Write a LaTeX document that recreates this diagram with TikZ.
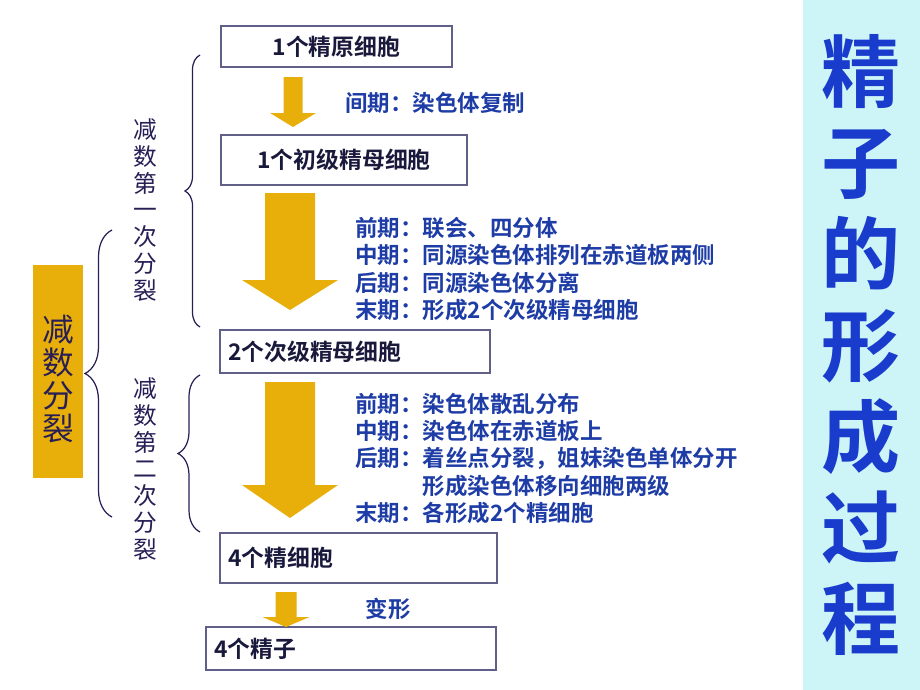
\documentclass[tikz,border=0pt]{standalone}
\usepackage{fontspec}
\setmainfont{Noto Sans CJK SC}[BoldFont={Noto Sans CJK SC Bold}]
\usetikzlibrary{decorations.pathreplacing}

\definecolor{arrowgold}{RGB}{232,174,10}
\definecolor{boxline}{RGB}{95,95,135}
\definecolor{cellink}{RGB}{25,25,60}
\definecolor{stageblue}{RGB}{30,60,165}
\definecolor{titleblue}{RGB}{25,60,205}
\definecolor{titlebg}{RGB}{205,245,248}
\definecolor{phaseink}{RGB}{40,30,85}

% block arrow: x, top, shaft half width, head half width, head start, tip
\newcommand{\blockarrow}[6]{%
  \fill[arrowgold] ({#1-#3}, #2) -- ({#1+#3}, #2) -- ({#1+#3}, #5) -- ({#1+#4}, #5)
    -- (#1, #6) -- ({#1-#4}, #5) -- ({#1-#3}, #5) -- cycle;}

\begin{document}
\begin{tikzpicture}[x = 0.02cm, y = -0.02cm,
    cell/.style = {draw = boxline, line width = 0.9pt, inner xsep = 0.16cm, text = cellink,
      font = \fontsize{13pt}{15.6pt}\selectfont\bfseries},
    stage/.style = {align = left, anchor = west, inner sep = 0, text = stageblue,
      font = \fontsize{12.8pt}{15.55pt}\selectfont\bfseries},
    phase/.style = {align = center, inner sep = 0, text = phaseink,
      font = \fontsize{13.5pt}{15.3pt}\selectfont},
    bracket/.style = {draw = phaseink, line width = 0.7pt, decorate}]
    \useasboundingbox (0, 0) rectangle (920, 690);

    \node[cell, minimum width = 4.62cm, minimum height = 0.82cm] (spermatogonium) at (336.5, 46.5) {1个精原细胞};
    \node[cell, minimum width = 4.92cm, minimum height = 1.0cm] (primary spermatocyte) at (344, 160) {1个初级精母细胞};
    \node[cell, minimum width = 5.4cm, minimum height = 0.86cm, text width = 5.08cm, align = left] (secondary spermatocytes) at (355, 351.5) {2个次级精母细胞};
    \node[cell, minimum width = 5.54cm, minimum height = 1.0cm, text width = 5.22cm, align = left] (spermatids) at (358.5, 558) {4个精细胞};
    \node[cell, minimum width = 5.8cm, minimum height = 0.86cm, text width = 5.48cm, align = left] (sperms) at (351, 648.5) {4个精子};

    \blockarrow{293}{77}{9.5}{23}{113}{127}
    \blockarrow{290}{193}{25}{48}{280}{310}
    \blockarrow{290}{382}{25}{48}{485}{518}
    \blockarrow{286}{592}{10.5}{23.5}{617}{627}

    \node[stage] (interphase) at (345, 103) {间期：染色体复制};
    \node[stage] (meiosis one stages) at (355, 269) {前期：联会、四分体\\中期：同源染色体排列在赤道板两侧\\后期：同源染色体分离\\末期：形成2个次级精母细胞};
    \node[stage] (meiosis two stages) at (355, 458.5) {前期：染色体散乱分布\\中期：染色体在赤道板上\\后期：着丝点分裂，姐妹染色单体分开\\\hspace*{3em}形成染色体移向细胞两级\\末期：各形成2个精细胞};
    \node[stage, anchor = center] (metamorphosis) at (388, 609) {变形};

    \node[phase] (meiosis one) at (145, 210) {减\\数\\第\\一\\次\\分\\裂};
    \node[phase] (meiosis two) at (145, 469) {减\\数\\第\\二\\次\\分\\裂};
    \draw[bracket, decoration = {brace, amplitude = 0.3cm}] (200, 327) -- (200, 55);
    \draw[bracket, decoration = {brace, amplitude = 0.44cm}] (200, 532) -- (200, 375);
    \draw[bracket, decoration = {brace, amplitude = 0.54cm}] (112, 517) -- (112, 230);

    \node[fill = arrowgold, minimum width = 1.0cm, minimum height = 4.26cm, inner sep = 0] (meiosis) at (58, 371.5) {};
    \node[align = center, inner sep = 0, text = phaseink, font = \fontsize{18pt}{18.7pt}\selectfont] (meiosis label) at (58, 379) {减\\数\\分\\裂};

    \node[fill = titlebg, minimum width = 2.34cm, minimum height = 13.8cm, inner sep = 0, align = center, text = titleblue,
      font = \fontsize{45pt}{51.9pt}\selectfont\bfseries] (title) at (861.5, 345) {精\\子\\的\\形\\成\\过\\程};
\end{tikzpicture}
\end{document}
